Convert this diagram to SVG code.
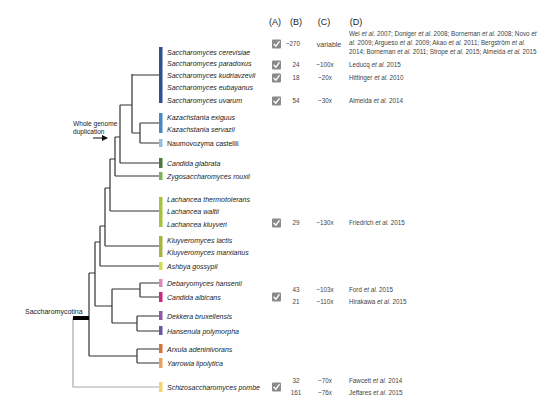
<svg xmlns="http://www.w3.org/2000/svg" width="556" height="400" viewBox="0 0 556 400">
<style>
.tx{font-family:"Liberation Sans",Arial,sans-serif;font-size:7px;font-style:italic;fill:#222}
.txn{font-family:"Liberation Sans",Arial,sans-serif;font-size:7px;fill:#222}
.hd{font-family:"Liberation Sans",Arial,sans-serif;font-size:9px;fill:#222;text-anchor:middle}
.num{font-family:"Liberation Sans",Arial,sans-serif;font-size:6.3px;fill:#444;text-anchor:middle}
.ref{font-family:"Liberation Sans",Arial,sans-serif;font-size:6.3px;fill:#444}
.lbl{font-family:"Liberation Sans",Arial,sans-serif;font-size:6.6px;fill:#222}
.br{fill:none;stroke:#333;stroke-width:1.2}
.chk{fill:#8a8a8a}
.ck{fill:none;stroke:#fff;stroke-width:1.4;stroke-linecap:round;stroke-linejoin:round}
</style>
<defs>
<marker id="ah" markerWidth="6" markerHeight="6" refX="5" refY="3" orient="auto" markerUnits="userSpaceOnUse">
<path d="M0,0 L6,3 L0,6 z" fill="#111"/>
</marker>
<g id="cb"><rect x="0" y="-4.5" width="9" height="9" rx="1" class="chk"/><path d="M2,0.2 L3.9,2.2 L7.2,-2.3" class="ck"/></g>
</defs>
<rect width="556" height="400" fill="#fff"/>

<g id="connectors">
<path class="br" d="M132,75 H159 M132,74 V133 M132,133 H140 M140,123 V143 M140,123 H159 M140,143 H159"/>
<path class="br" d="M120,105 H132 M120,105 V163 M120,163 H159"/>
<path class="br" d="M115,137 H120 M115,137 V176 M115,176 H159"/>
<path class="br" d="M110,159 H115 M110,159 V211 M110,211 H159"/>
<path class="br" d="M105,188 H110 M105,188 V246 M105,246 H159"/>
<path class="br" d="M100,226 H105 M100,226 V266 M100,266 H159"/>
<path class="br" d="M95,242 H100 M95,242 V306 M95,306 H112"/>
<path class="br" d="M112,289 V323 M112,289 H140 M140,283 V297 M140,283 H159 M140,297 H159"/>
<path class="br" d="M112,323 H137 M137,316 V331 M137,316 H159 M137,331 H159"/>
<path class="br" d="M89,273 V356 M89,273 H95 M89,356 H137 M137,349 V363 M137,349 H159 M137,363 H159"/>
<path d="M73,318 V387 H159" fill="none" stroke="#aaa" stroke-width="1.2"/>
<rect x="73" y="316" width="16" height="4" fill="#000"/>
<path d="M93,138 H107" stroke="#111" stroke-width="1" marker-end="url(#ah)"/>
</g>

<g id="labels">
<text class="lbl" x="73" y="126">Whole genome</text>
<text class="lbl" x="73" y="134">duplication</text>
<text class="txn" x="25" y="313.5">Saccharomycotina</text>
</g>

<g id="n-saccharomyces">
<rect x="159" y="47" width="3.5" height="56" fill="#2e5090"/>
<text class="tx" x="167" y="54.5">Saccharomyces cerevisiae</text>
<text class="tx" x="167" y="66">Saccharomyces paradoxus</text>
<text class="tx" x="167" y="78">Saccharomyces kudriavzevii</text>
<text class="tx" x="167" y="90">Saccharomyces eubayanus</text>
<text class="tx" x="167" y="102.5">Saccharomyces uvarum</text>
</g>
<g id="n-kazachstania">
<rect x="159" y="113" width="3.5" height="20" fill="#4a88c4"/>
<text class="tx" x="167" y="119.5">Kazachstania exiguus</text>
<text class="tx" x="167" y="131.5">Kazachstania servazii</text>
</g>
<g id="n-naumovozyma">
<rect x="159" y="139" width="3.5" height="8" fill="#94bde0"/>
<text class="txn" x="167" y="145.5">Naumovozyma castellii</text>
</g>
<g id="n-cglabrata">
<rect x="159" y="158" width="3.5" height="10" fill="#4d7a3a"/>
<text class="tx" x="167" y="165.5">Candida glabrata</text>
</g>
<g id="n-zygo">
<rect x="159" y="172" width="3.5" height="8" fill="#7db35a"/>
<text class="tx" x="167" y="178.5">Zygosaccharomyces rouxii</text>
</g>
<g id="n-lachancea">
<rect x="159" y="197" width="3.5" height="30" fill="#a6c23e"/>
<text class="tx" x="167" y="201.5">Lachancea thermotolerans</text>
<text class="tx" x="167" y="214">Lachancea waltii</text>
<text class="tx" x="167" y="226.5">Lachancea kluyveri</text>
</g>
<g id="n-kluyveromyces">
<rect x="159" y="236" width="3.5" height="21" fill="#a9b43f"/>
<text class="tx" x="167" y="242.5">Kluyveromyces lactis</text>
<text class="tx" x="167" y="254.5">Kluyveromyces marxianus</text>
</g>
<g id="n-ashbya">
<rect x="159" y="262" width="3.5" height="8" fill="#d0de4c"/>
<text class="tx" x="167" y="268.5">Ashbya gossypii</text>
</g>
<g id="n-debaryomyces">
<rect x="159" y="279" width="3.5" height="8" fill="#d98cb8"/>
<text class="tx" x="167" y="285.5">Debaryomyces hansenii</text>
</g>
<g id="n-calbicans">
<rect x="159" y="292" width="3.5" height="10" fill="#c92a7c"/>
<text class="tx" x="167" y="299.5">Candida albicans</text>
</g>
<g id="n-dekkera">
<rect x="159" y="311" width="3.5" height="9" fill="#8d5aa3"/>
<text class="tx" x="167" y="318.5">Dekkera bruxellensis</text>
</g>
<g id="n-hansenula">
<rect x="159" y="326" width="3.5" height="9" fill="#6a579f"/>
<text class="tx" x="167" y="333.5">Hansenula polymorpha</text>
</g>
<g id="n-arxula">
<rect x="159" y="344" width="3.5" height="9" fill="#d4733a"/>
<text class="tx" x="167" y="351.5">Arxula adeninivorans</text>
</g>
<g id="n-yarrowia">
<rect x="159" y="358" width="3.5" height="10" fill="#e8a262"/>
<text class="tx" x="167" y="365.5">Yarrowia lipolytica</text>
</g>
<g id="n-schizo">
<rect x="159" y="382" width="3.5" height="10" fill="#f4d46c"/>
<text class="tx" x="167" y="389.5">Schizosaccharomyces pombe</text>
</g>

<g id="table">
<text class="hd" x="275" y="25">(A)</text>
<text class="hd" x="296" y="25">(B)</text>
<text class="hd" x="324" y="25">(C)</text>
<text class="hd" x="356" y="25">(D)</text>

<use href="#cb" x="272" y="44"/>
<text class="num" x="293" y="46.3">~270</text>
<text class="num" x="329" y="46.5" style="font-size:7px">variable</text>
<text class="ref" x="349" y="36">Wei <tspan font-style="italic">et al.</tspan> 2007; Doniger <tspan font-style="italic">et al.</tspan> 2008; Borneman <tspan font-style="italic">et al.</tspan> 2008; Novo <tspan font-style="italic">et</tspan></text>
<text class="ref" x="349" y="44.8"><tspan font-style="italic">al.</tspan> 2009; Argueso <tspan font-style="italic">et al.</tspan> 2009; Akao <tspan font-style="italic">et al.</tspan> 2011; Bergström <tspan font-style="italic">et al.</tspan></text>
<text class="ref" x="349" y="53.6">2014; Borneman <tspan font-style="italic">et al.</tspan> 2011; Strope <tspan font-style="italic">et al.</tspan> 2015; Almeida <tspan font-style="italic">et al.</tspan> 2015</text>

<use href="#cb" x="272" y="65"/>
<text class="num" x="296" y="67.3">24</text>
<text class="num" x="325" y="67.3">~100x</text>
<text class="ref" x="349" y="67.3">Leducq <tspan font-style="italic">et al.</tspan> 2015</text>

<use href="#cb" x="272" y="78"/>
<text class="num" x="296" y="80.3">18</text>
<text class="num" x="325" y="80.3">~20x</text>
<text class="ref" x="349" y="80.3">Hittinger <tspan font-style="italic">et al.</tspan> 2010</text>

<use href="#cb" x="272" y="101"/>
<text class="num" x="296" y="103.3">54</text>
<text class="num" x="325" y="103.3">~30x</text>
<text class="ref" x="349" y="103.3">Almeida <tspan font-style="italic">et al.</tspan> 2014</text>

<use href="#cb" x="272" y="223"/>
<text class="num" x="296" y="225.3">29</text>
<text class="num" x="325" y="225.3">~130x</text>
<text class="ref" x="349" y="225.3">Friedrich <tspan font-style="italic">et al.</tspan> 2015</text>

<use href="#cb" x="272" y="297"/>
<text class="num" x="296" y="292.3">43</text>
<text class="num" x="325" y="292.3">~103x</text>
<text class="ref" x="349" y="292.3">Ford <tspan font-style="italic">et al.</tspan> 2015</text>
<text class="num" x="296" y="304.3">21</text>
<text class="num" x="325" y="304.3">~110x</text>
<text class="ref" x="349" y="304.3">Hirakawa <tspan font-style="italic">et al.</tspan> 2015</text>

<use href="#cb" x="272" y="387"/>
<text class="num" x="296" y="383.3">32</text>
<text class="num" x="325" y="383.3">~70x</text>
<text class="ref" x="349" y="383.3">Fawcett <tspan font-style="italic">et al.</tspan> 2014</text>
<text class="num" x="296" y="395.3">161</text>
<text class="num" x="325" y="395.3">~76x</text>
<text class="ref" x="349" y="395.3">Jeffares <tspan font-style="italic">et al.</tspan> 2015</text>
</g>
</svg>
